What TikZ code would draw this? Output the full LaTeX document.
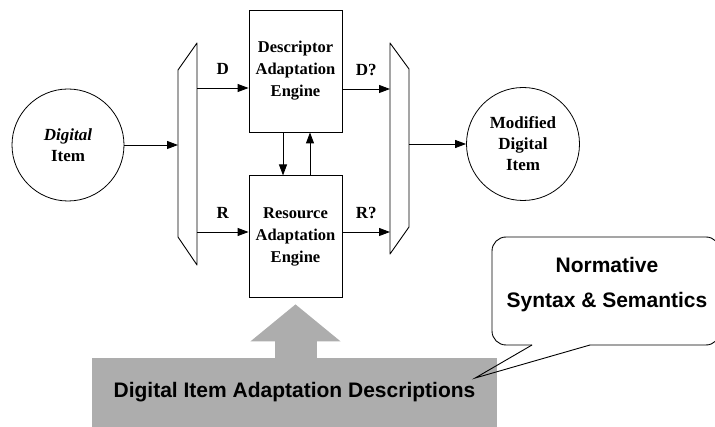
\documentclass[tikz,border=0pt]{standalone}
\usepackage{fontspec}
\setmainfont{Liberation Serif}
\setsansfont{Liberation Sans}
\usetikzlibrary{positioning,arrows.meta}
\tikzset{
	motor/.style={rectangle, draw, line width=0.9pt, minimum width=93pt, 
		minimum height=122pt, align=center, 
		font=\bfseries\fontsize{16.5}{22}\selectfont},
	circulo/.style={circle, draw, line width=0.8pt, minimum size=112pt, 
		inner sep=0pt, align=center, font=\bfseries\fontsize{17}{21}\selectfont},
	flecha/.style={line width=0.9pt, -{Triangle[length=11pt,width=8pt]}},
	etiqueta/.style={font=\bfseries\fontsize{17}{20}\selectfont, inner sep=1pt},
	multiplexor/.style={draw, line width=0.9pt, line join=round},
	barra/.style={rectangle, fill=black!32, minimum width=405pt, 
		minimum height=69pt, font=\sffamily\bfseries\fontsize{21}{25}\selectfont},
	grueso/.style={line width=42pt, black!32, -{Triangle[length=37pt,width=88pt]}},
	globo/.style={draw, line width=0.9pt},
	globotexto/.style={align=center, font=\sffamily\bfseries\fontsize{21}{35}\selectfont}
}

\begin{document}
\begin{tikzpicture}[x=1pt, y=-1pt]
	\useasboundingbox (0,0) rectangle (715,427);
	
	\node[circulo] (entrada) at (68,145) {\textit{Digital}\\Item};
	\node[motor] (desc) at (295.5,71) {Descriptor\\Adaptation\\Engine};
	\node[motor, below=43pt of desc] (recurso) {Resource\\Adaptation\\Engine};
	\node[circulo, minimum size=113pt] (salida) at (523,144) {Modified\\Digital\\Item};
	
	% multiplexores
	\draw[multiplexor] (178,70) -- (197,43) -- (197,265) -- (178,237) -- cycle;
	\draw[multiplexor] (390,43) -- (409,69) -- (409,227) -- (390,254) -- cycle;
	\coordinate (izq-in) at (178,145);
	\coordinate (izq-d) at (197,88);
	\coordinate (izq-r) at (197,232);
	\coordinate (der-d) at (390,89);
	\coordinate (der-r) at (390,232);
	\coordinate (der-out) at (409,144);
	
	\draw[flecha] (entrada.east) -- (izq-in);
	\draw[flecha] (izq-d) -- node[etiqueta, above=12pt] {D} (izq-d -| desc.west);
	\draw[flecha] (desc.east |- der-d) -- node[etiqueta, above=12pt] {D?} (der-d);
	\draw[flecha] (izq-r) -- node[etiqueta, above=12pt] {R} (izq-r -| recurso.west);
	\draw[flecha] (recurso.east |- der-r) -- node[etiqueta, above=12pt] {R?} (der-r);
	\draw[flecha] ([xshift=-12.5pt]desc.south) -- ([xshift=-12.5pt]recurso.north);
	\draw[flecha] ([xshift=14.5pt]recurso.north) -- ([xshift=14.5pt]desc.south);
	\draw[flecha] (der-out) -- (salida.west);
	
	% descripciones
	\node[barra] (barra) at (294.5,392.5) {Digital Item Adaptation Descriptions};
	\draw[grueso, shorten >=6pt] (barra.north -| recurso.south) -- (recurso.south);
	
	% globo
	\coordinate (punta) at ([xshift=-22pt, yshift=14.5pt]barra.east);
	\node[globotexto] (globo) at (607,285) {Normative\\Syntax \& Semantics};
	\draw[globo, rounded corners=14pt] (532,345) -- (492,345) -- (492,237) 
		-- (720,237) -- (720,345) -- (590,345);
	\draw[globo, line join=miter] (532,345) -- (punta) -- (590,345);
\end{tikzpicture}
\end{document}
